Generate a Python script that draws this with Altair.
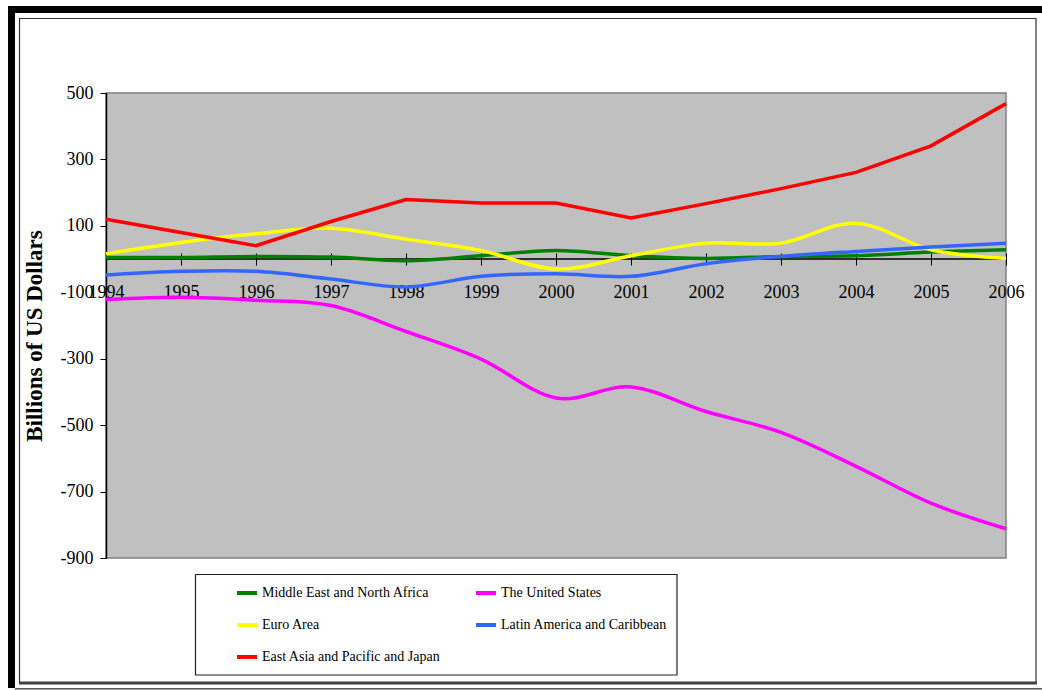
import altair as alt
import pandas as pd

# Annual current account balances, billions of US dollars
years = list(range(1994, 2007))
mena = [5, 5, 8, 6, -5, 10, 26, 10, 2, 8, 10, 21, 28]
united_states = [-122, -115, -124, -140, -218, -301, -418, -385, -459, -522, -624, -735, -812]
euro_area = [16, 50, 76, 93, 60, 26, -30, 10, 48, 48, 108, 28, 2]
latin_america = [-48, -37, -37, -60, -84, -52, -44, -52, -14, 8, 23, 36, 48]
east_asia = [120, 80, 40, 113, 179, 169, 169, 124, 167, 212, 261, 341, 468]

series_names = [
    "Middle East and North Africa",
    "The United States",
    "Euro Area",
    "Latin America and Caribbean",
    "East Asia and Pacific and Japan",
]
series_values = [mena, united_states, euro_area, latin_america, east_asia]
series_colors = ["#008000", "#FF00FF", "#FFFF00", "#3366FF", "#FF0000"]
series_interp = ["cardinal", "cardinal", "cardinal", "cardinal", "linear"]

y_ticks = [-900, -700, -500, -300, -100, 100, 300, 500]

W, H = 900, 465          # plot area
LEFT, TOP = 106, 93      # plot area origin on the page
FONT = "Liberation Serif"

rows = []
for name, vals in zip(series_names, series_values):
    for yr, v in zip(years, vals):
        rows.append({"year": yr, "value": v, "region": name})
df = pd.DataFrame(rows)

color = alt.Color(
    "region:N",
    scale=alt.Scale(domain=series_names, range=series_colors),
    legend=alt.Legend(
        title=None,
        orient="none",
        direction="horizontal",
        legendX=235 - LEFT,
        legendY=581 - TOP,
        columns=2,
        columnPadding=27,
        rowPadding=12,
        padding=0,
        symbolType="stroke",
        symbolStrokeWidth=4,
        symbolSize=400,
        labelFont=FONT,
        labelFontSize=14,
        labelColor="black",
        labelOffset=3,
        labelLimit=400,
    ),
)

x_enc = alt.X(
    "year:Q",
    scale=alt.Scale(domain=[1994, 2006], nice=False, zero=False),
    axis=alt.Axis(
        title=None,
        values=years,
        format="d",
        grid=False,
        domain=False,
        tickColor="black",
        tickSize=12,
        offset=-305,
        labelFont=FONT,
        labelFontSize=18,
        labelColor="black",
        labelPadding=18,
        labelFlush=False,
        labelOverlap=False,
    ),
)
y_enc = alt.Y(
    "value:Q",
    scale=alt.Scale(domain=[-900, 500], nice=False, zero=False),
    axis=alt.Axis(
        title="Billions of US Dollars",
        values=y_ticks,
        labelExpr="'' + datum.value",
        grid=False,
        domainColor="black",
        domainWidth=1.5,
        tickColor="black",
        tickSize=6,
        labelFont=FONT,
        labelFontSize=18,
        labelColor="black",
        labelPadding=7,
        titleFont=FONT,
        titleFontSize=23,
        titleFontWeight="bold",
        titleColor="black",
        titleX=-60,
        titleY=H / 2 + 10,
        titleBaseline="bottom",
    ),
)

# horizontal zero line across the plot
zero_line = (
    alt.Chart(pd.DataFrame({"value": [0]}))
    .mark_rule(color="black", strokeWidth=1.5)
    .encode(y=y_enc)
)

layers = []
for name, interp in zip(series_names, series_interp):
    layers.append(
        alt.Chart(df)
        .transform_filter(alt.datum.region == name)
        .mark_line(strokeWidth=3.5, interpolate=interp)
        .encode(x=x_enc, y=y_enc, color=color)
    )

one = pd.DataFrame({"k": [0]})


def box(x1, y1, x2, y2, **style):
    return alt.Chart(one).mark_rect(**style).encode(
        x=alt.value(x1 - LEFT), x2=alt.value(x2 - LEFT),
        y=alt.value(y1 - TOP), y2=alt.value(y2 - TOP),
    )


legend_box = box(195.5, 574.5, 677, 675, fill=None, stroke="#222", strokeWidth=1.2)
frame = [
    box(8, 6, 15, 688, fill="black"),
    box(8, 6, 1042, 13, fill="black"),
    box(19.5, 18.5, 1036, 683, fill=None, stroke="#333", strokeWidth=1.2),
    box(19, 681.5, 1037, 684.5, fill="#404040"),
    box(15, 688, 1042, 689.5, fill="#555"),
]

chart = (
    alt.layer(*frame, legend_box, zero_line, *layers)
    .properties(
        width=W,
        height=H,
        autosize=alt.AutoSizeParams(type="none"),
        padding={"left": LEFT, "top": TOP, "right": 1042 - LEFT - W, "bottom": 690 - TOP - H},
        background="white",
    )
    .configure_view(fill="#C0C0C0", stroke="#808080", strokeWidth=1.5)
)

chart.save("out.html", embed_options={"renderer": "svg", "actions": False})
